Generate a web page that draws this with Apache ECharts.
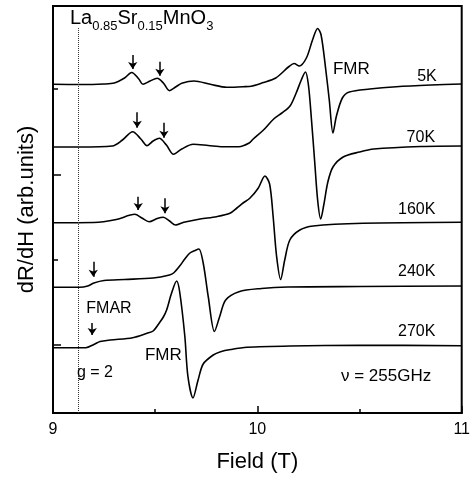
<!DOCTYPE html>
<html><head><meta charset="utf-8">
<script src="https://cdn.jsdelivr.net/npm/echarts@6/dist/echarts.min.js"></script>
<style>html,body{margin:0;padding:0;background:#fff}#c{width:473px;height:480px}</style>
</head><body><div id="c"></div>
<script>
// Field (T) vs dR/dH (arb. units, vertically offset traces)
const temps = ['5K', '70K', '160K', '240K', '270K'];
const trace5K = [[9.00,328.7],[9.13,328.5],[9.25,329],[9.30,330],[9.35,335],[9.385,340.5],[9.42,334],[9.44,328.7],[9.475,332],[9.51,334.7],[9.54,330],[9.57,322.3],[9.60,326],[9.63,329.7],[9.69,332],[9.77,328.7],[9.85,325.7],[9.93,326.3],[9.96,326.5],[10.03,330.5],[10.09,335],[10.155,346.5],[10.18,349.5],[10.205,347],[10.24,355],[10.27,373],[10.295,384.5],[10.312,378],[10.335,343],[10.352,313],[10.37,280],[10.387,297],[10.416,315],[10.45,321],[10.55,324],[10.68,326.3],[10.85,328],[11.0,329]];
const trace70K = [[9.00,266],[9.13,266],[9.29,267],[9.34,273],[9.39,281.3],[9.43,274],[9.46,267.3],[9.49,272],[9.52,274.7],[9.555,268],[9.59,258.7],[9.63,264],[9.686,268.7],[9.76,267.5],[9.83,266.3],[9.91,266.3],[9.96,270],[9.98,274],[10.03,283],[10.08,294],[10.12,300],[10.16,307],[10.19,320],[10.215,333],[10.235,341],[10.25,328],[10.265,293],[10.28,253],[10.295,213],[10.31,194],[10.325,208],[10.345,231],[10.37,246],[10.42,256],[10.50,261],[10.57,264],[10.8,266.5],[11.0,267]];
const trace160K = [[9.00,190.3],[9.20,190.5],[9.31,193.5],[9.40,198.7],[9.435,195],[9.47,191.3],[9.51,194.5],[9.54,195.7],[9.57,192],[9.60,188],[9.64,190.7],[9.72,194],[9.80,196.3],[9.866,199.7],[9.90,205],[9.93,210],[9.963,214.7],[10.004,224.7],[10.037,237],[10.06,229],[10.077,197],[10.094,157],[10.114,133.5],[10.134,153],[10.159,173],[10.208,183],[10.273,187],[10.517,189.7],[11.0,190.7]];
const trace240K = [[9.00,125.7],[9.13,125.7],[9.17,127],[9.20,130],[9.25,132.5],[9.35,133.5],[9.49,135],[9.57,138],[9.59,140],[9.62,147],[9.645,154],[9.67,160],[9.695,162.5],[9.714,164],[9.735,150],[9.76,116],[9.79,81.5],[9.815,96],[9.845,113],[9.91,121.3],[10.02,124.5],[10.15,126],[10.5,126.5],[11.0,127]];
const trace270K = [[9.00,65.3],[9.16,65.3],[9.20,68.5],[9.23,71.5],[9.28,73],[9.39,75.3],[9.46,79.7],[9.49,82],[9.52,90],[9.54,96],[9.556,103],[9.58,119.7],[9.605,132],[9.62,121],[9.645,77],[9.66,37],[9.685,15],[9.71,33],[9.735,49],[9.784,58],[9.82,61.3],[9.87,63.5],[9.95,65.7],[10.16,67],[10.5,67.7],[11.0,67.3]];
const traces = [trace5K, trace70K, trace160K, trace240K, trace270K];
const xTicks = [9, 10, 11];
// arrows: [field, top, bottom] per trace
const arrows5K = [[9.39, 358, 344], [9.523, 351.3, 337.3]];
const arrows70K = [[9.412, 300.7, 285.3], [9.543, 290.3, 275.3]];
const arrows160K = [[9.417, 216.3, 203], [9.548, 214.7, 199.7]];
const arrows240K = [[9.197, 151.3, 136.3]];
const arrows270K = [[9.192, 90, 78]];
const arrowSets = [arrows5K, arrows70K, arrows160K, arrows240K, arrows270K];
const gFactorField = 9.125;
// temperature label anchors [field, value]
const tempLabelPos = [[10.83, 336], [10.80, 275], [10.78, 203], [10.78, 141], [10.78, 81]];

const FONT = "'Liberation Sans', Arial, Helvetica, sans-serif";

function textPoint(coord, text, size, extra) {
  return Object.assign({
    coord: coord, symbolSize: 0,
    label: {show: true, position: 'inside', formatter: text, color: '#000', fontSize: size, fontFamily: FONT}
  }, extra || {});
}

const series = traces.map((tr, i) => {
  const ml = arrowSets[i].map(a => [{coord: [a[0], a[1]]}, {coord: [a[0], a[2]]}]);
  const mp = [textPoint(tempLabelPos[i], temps[i], 16)];
  return {
    type: 'line', data: tr, showSymbol: false, smooth: 0.3,
    lineStyle: {color: '#000', width: 1.6}, itemStyle: {color: '#000'},
    silent: true, z: 3,
    markLine: {silent: true, symbol: ['none', 'arrow'], symbolSize: 7, label: {show: false},
      lineStyle: {color: '#000', width: 1.5, type: 'solid'}, emphasis: {disabled: true}, data: ml},
    markPoint: {silent: true, data: mp}
  };
});

series[0].markPoint.data.push(textPoint([10.46, 344], 'FMR', 17));
series[0].markPoint.data.push({
  coord: [9.083, 383], symbolSize: 0,
  label: {show: true, position: 'inside', align: 'left', verticalAlign: 'bottom',
    formatter: '{b|La}{s|0.85}{b|Sr}{s|0.15}{b|MnO}{s|3}',
    rich: {
      b: {fontSize: 20, fontFamily: FONT, color: '#000', verticalAlign: 'top', lineHeight: 22},
      s: {fontSize: 13, fontFamily: FONT, color: '#000', verticalAlign: 'top', padding: [12, 0, 0, 0], lineHeight: 14}
    }}
});
series[4].markPoint.data.push(textPoint([9.54, 58], 'FMR', 17));
series[4].markPoint.data.push(textPoint([9.274, 104], 'FMAR', 16));
series[4].markPoint.data.push(textPoint([9.205, 40], 'g = 2', 16));
series[4].markPoint.data.push(textPoint([10.63, 37], 'ν = 255GHz', 17));
series[4].markLine.data.push([{coord: [gFactorField, 0], symbol: 'none', lineStyle: {type: 'dotted', width: 1, color: '#333'}},
                              {coord: [gFactorField, 385], symbol: 'none'}]);

const option = {
  animation: false,
  backgroundColor: '#fff',
  grid: {left: 53, right: 11, top: 6, bottom: 67, show: true, borderColor: '#000', borderWidth: 2, backgroundColor: 'transparent'},
  xAxis: {
    type: 'value', min: 9, max: 11, interval: 1,
    name: 'Field (T)', nameLocation: 'middle', nameGap: 38,
    nameTextStyle: {fontSize: 22, fontFamily: FONT, color: '#000'},
    axisLine: {show: true, lineStyle: {color: '#000', width: 2}},
    axisTick: {show: true, inside: true, length: 7, lineStyle: {color: '#000', width: 1.5}},
    minorTick: {show: true, splitNumber: 2, length: 4, lineStyle: {color: '#000', width: 1.5}},
    axisLabel: {fontSize: 16, fontFamily: FONT, color: '#000', margin: 9,
      formatter: v => xTicks.includes(v) ? String(v) : ''},
    splitLine: {show: false}
  },
  yAxis: [{
    type: 'value', min: 0, max: 407,
    name: 'dR/dH (arb.units)', nameLocation: 'middle', nameGap: 15,
    nameTextStyle: {fontSize: 22, fontFamily: FONT, color: '#000'},
    axisLine: {show: true, lineStyle: {color: '#000', width: 2}},
    axisTick: {show: true, inside: true, length: 8, customValues: [68, 238], lineStyle: {color: '#000', width: 1.5}},
    axisLabel: {show: false},
    splitLine: {show: false}
  }, {
    type: 'value', min: 0, max: 407, position: 'left', offset: 0,
    axisLine: {show: false},
    axisTick: {show: true, inside: true, length: 5, customValues: [153, 324], lineStyle: {color: '#000', width: 1.5}},
    axisLabel: {show: false},
    splitLine: {show: false}
  }],
  series: series
};

const chart = echarts.init(document.getElementById('c'), null, {renderer: 'canvas'});
chart.setOption(option);
</script>
</body></html>
